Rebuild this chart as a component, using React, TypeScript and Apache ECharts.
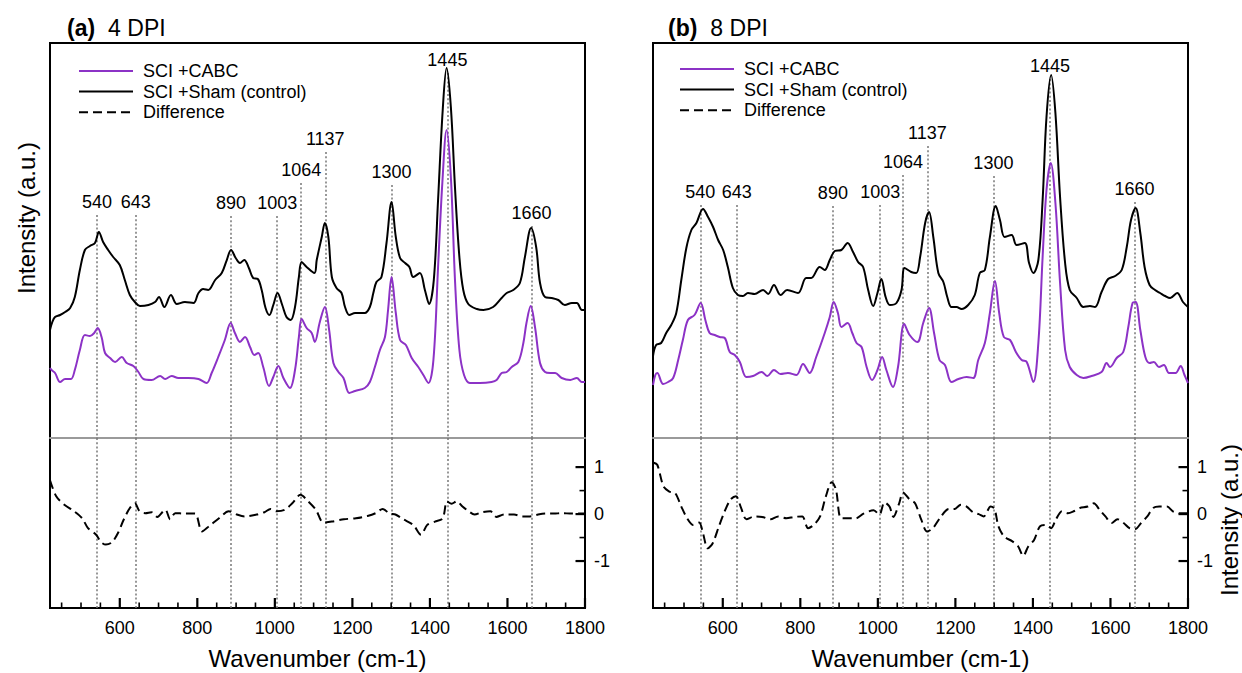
import { useEffect, useRef } from 'react';
import * as echarts from 'echarts';

const FONT = '"Liberation Sans", Arial, Helvetica, sans-serif';
const PURPLE = '#8c32c6';
const BLACK = '#000000';

// ---------- data ----------
const peakLabels = ['540', '643', '890', '1003', '1064', '1137', '1300', '1445', '1660'];
const peakPosA = [541, 641, 887, 1006, 1068, 1130, 1301, 1445, 1662];
const peakPosB = [542, 636, 884, 1006, 1065, 1128, 1298, 1444, 1662];

const xTicks = [600, 800, 1000, 1200, 1400, 1600, 1800];
const xMinorTicks = [450, 500, 550, 650, 700, 750, 850, 900, 950, 1050, 1100, 1150, 1250, 1300, 1350, 1450, 1500, 1550, 1650, 1700, 1750];
const diffTicks = [-1, 0, 1];
const diffMinorTicks = [-0.5, 0.5];

const legendNames = ['SCI +CABC', 'SCI +Sham (control)', 'Difference'];
const panelTitles = [['(a)', '4 DPI'], ['(b)', '8 DPI']];

// panel (a) 4 DPI
const shamA = [[420, 108], [426, 116], [433, 121], [446, 123], [459, 126], [472, 130], [484, 141], [497, 168], [510, 188], [523, 192], [536, 195], [546, 206], [557, 196], [570, 188], [583, 181], [600, 173], [613, 158], [626, 143], [639, 136], [652, 132], [674, 133], [691, 136], [701, 141], [715, 131], [732, 143], [747, 134], [768, 136], [790, 135], [803, 145], [815, 149], [828, 148], [846, 158], [863, 165], [876, 178], [887, 188], [899, 180], [910, 175], [921, 178], [933, 170], [944, 160], [956, 159], [966, 148], [976, 130], [986, 123], [996, 133], [1007, 145], [1019, 133], [1030, 121], [1041, 118], [1052, 131], [1062, 161], [1069, 176], [1082, 171], [1102, 165], [1108, 178], [1121, 201], [1129, 215], [1138, 201], [1147, 161], [1159, 150], [1172, 145], [1181, 131], [1192, 123], [1207, 125], [1232, 125], [1245, 131], [1254, 145], [1262, 156], [1275, 161], [1288, 195], [1301, 236], [1312, 201], [1323, 180], [1336, 175], [1347, 171], [1357, 161], [1374, 165], [1387, 148], [1398, 134], [1410, 158], [1421, 238], [1433, 328], [1443, 370], [1454, 331], [1465, 248], [1476, 181], [1486, 148], [1499, 134], [1521, 129], [1538, 128], [1563, 131], [1585, 140], [1598, 145], [1615, 148], [1632, 155], [1645, 181], [1661, 210], [1674, 191], [1684, 155], [1697, 141], [1714, 140], [1731, 138], [1748, 133], [1766, 135], [1779, 135], [1792, 128], [1800, 128]];
const cabcA = [[420, 70], [424, 68], [433, 65], [446, 56], [459, 59], [474, 59], [484, 68], [497, 88], [510, 103], [523, 102], [534, 105], [543, 110], [553, 101], [562, 85], [575, 80], [588, 76], [605, 81], [618, 75], [635, 72], [648, 66], [661, 59], [682, 58], [704, 62], [717, 59], [734, 62], [751, 60], [777, 60], [803, 59], [824, 55], [837, 65], [854, 81], [871, 98], [886, 115], [897, 105], [910, 96], [923, 101], [936, 91], [947, 83], [957, 85], [970, 71], [985, 52], [996, 61], [1009, 72], [1022, 60], [1039, 50], [1052, 68], [1062, 101], [1069, 119], [1082, 110], [1095, 105], [1103, 96], [1116, 116], [1129, 131], [1140, 108], [1151, 75], [1164, 66], [1177, 60], [1192, 45], [1207, 47], [1232, 50], [1245, 56], [1258, 71], [1271, 88], [1284, 101], [1292, 128], [1301, 161], [1312, 125], [1323, 98], [1338, 93], [1353, 80], [1370, 71], [1383, 63], [1396, 55], [1409, 78], [1421, 171], [1432, 255], [1443, 308], [1454, 261], [1465, 155], [1476, 88], [1488, 63], [1503, 55], [1529, 55], [1559, 56], [1572, 58], [1585, 65], [1598, 66], [1611, 71], [1628, 76], [1641, 95], [1649, 115], [1660, 132], [1671, 111], [1684, 75], [1697, 66], [1710, 65], [1723, 65], [1740, 60], [1762, 58], [1779, 60], [1792, 56], [1800, 56]];
const diffA = [[420, 0.72], [436, 0.38], [457, 0.2], [482, 0.06], [503, -0.09], [518, -0.3], [539, -0.44], [552, -0.6], [564, -0.65], [580, -0.6], [595, -0.41], [610, -0.12], [626, 0.13], [639, 0.23], [651, 0.06], [666, 0.02], [682, 0.04], [697, -0.06], [712, 0.06], [718, 0.09], [730, -0.11], [743, 0.02], [769, 0.01], [794, 0.01], [812, -0.37], [830, -0.26], [856, -0.09], [881, 0.06], [902, -0.01], [922, -0.05], [953, -0.01], [973, 0.04], [989, 0.11], [1004, 0.06], [1025, 0.09], [1045, 0.23], [1066, 0.41], [1086, 0.27], [1106, 0.09], [1125, -0.18], [1147, -0.16], [1178, -0.11], [1209, -0.09], [1239, -0.04], [1260, 0.02], [1278, 0.11], [1296, 0.01], [1311, -0.01], [1331, -0.11], [1357, -0.23], [1377, -0.44], [1393, -0.23], [1413, -0.16], [1433, -0.09], [1444, 0.27], [1456, 0.22], [1469, 0.27], [1484, 0.16], [1500, 0.06], [1515, -0.01], [1535, 0.04], [1556, 0.06], [1571, -0.06], [1592, -0.01], [1617, -0.01], [1638, -0.05], [1658, -0.05], [1679, -0.01], [1699, 0.01], [1720, 0.01], [1740, 0.02], [1766, 0.01], [1800, 0.01]];

// panel (b) 8 DPI
const shamB = [[420, 82], [428, 93], [441, 95], [454, 105], [467, 113], [480, 125], [493, 158], [506, 190], [519, 208], [532, 215], [549, 229], [562, 221], [575, 211], [588, 198], [601, 188], [613, 171], [626, 150], [639, 143], [652, 142], [665, 145], [682, 144], [704, 148], [717, 144], [732, 153], [749, 143], [766, 148], [794, 145], [815, 160], [828, 160], [850, 171], [863, 168], [876, 178], [889, 187], [906, 188], [922, 195], [936, 186], [949, 176], [962, 171], [975, 148], [988, 132], [999, 145], [1009, 159], [1020, 141], [1031, 133], [1048, 135], [1061, 148], [1069, 170], [1086, 166], [1099, 165], [1109, 181], [1122, 215], [1132, 226], [1143, 201], [1156, 165], [1169, 156], [1179, 141], [1190, 131], [1203, 131], [1216, 129], [1233, 133], [1250, 143], [1263, 165], [1276, 168], [1289, 201], [1304, 232], [1315, 218], [1327, 201], [1345, 203], [1358, 193], [1379, 195], [1390, 175], [1401, 165], [1414, 178], [1425, 238], [1435, 321], [1447, 363], [1458, 325], [1470, 241], [1483, 175], [1495, 148], [1513, 140], [1530, 131], [1547, 132], [1560, 131], [1577, 146], [1594, 159], [1612, 162], [1629, 168], [1642, 191], [1653, 218], [1665, 230], [1677, 205], [1688, 171], [1701, 153], [1715, 148], [1728, 145], [1741, 142], [1754, 140], [1772, 145], [1787, 136], [1800, 131]];
const cabcB = [[420, 53], [426, 63], [431, 65], [446, 54], [459, 56], [472, 60], [485, 78], [497, 98], [510, 118], [527, 123], [543, 135], [555, 118], [566, 105], [579, 103], [592, 101], [605, 100], [618, 86], [631, 83], [644, 76], [661, 61], [678, 62], [700, 66], [715, 62], [732, 68], [749, 64], [768, 65], [790, 63], [807, 74], [824, 65], [841, 81], [863, 105], [876, 121], [886, 136], [897, 125], [906, 111], [922, 115], [934, 105], [945, 95], [958, 91], [971, 71], [985, 58], [999, 68], [1011, 81], [1022, 68], [1039, 51], [1052, 71], [1068, 114], [1082, 103], [1102, 96], [1117, 115], [1132, 130], [1145, 105], [1159, 78], [1173, 73], [1190, 56], [1208, 59], [1229, 61], [1246, 60], [1259, 78], [1276, 95], [1289, 125], [1302, 157], [1313, 125], [1325, 101], [1341, 98], [1356, 86], [1371, 78], [1384, 76], [1401, 56], [1414, 95], [1425, 181], [1435, 248], [1446, 275], [1458, 235], [1470, 155], [1483, 88], [1495, 71], [1513, 63], [1530, 60], [1551, 62], [1577, 66], [1590, 75], [1599, 71], [1616, 80], [1633, 86], [1646, 111], [1657, 135], [1665, 136], [1677, 108], [1690, 81], [1701, 75], [1712, 76], [1725, 71], [1738, 73], [1751, 65], [1768, 65], [1781, 72], [1791, 63], [1800, 55]];
const diffB = [[420, 1.1], [431, 1.05], [447, 0.59], [462, 0.48], [477, 0.45], [493, 0.16], [508, -0.09], [523, -0.23], [539, -0.18], [549, -0.41], [561, -0.73], [574, -0.62], [590, -0.26], [605, 0.06], [620, 0.31], [634, 0.38], [646, 0.16], [661, -0.11], [682, -0.05], [702, -0.06], [723, -0.11], [743, -0.05], [764, -0.09], [784, -0.06], [805, -0.05], [820, -0.3], [835, -0.23], [851, -0.05], [866, 0.38], [881, 0.68], [892, 0.52], [905, -0.09], [922, -0.09], [943, -0.09], [963, 0.01], [989, 0.08], [1004, -0.01], [1017, 0.25], [1030, 0.16], [1040, -0.06], [1055, 0.23], [1065, 0.46], [1081, 0.32], [1096, 0.23], [1112, -0.12], [1127, -0.37], [1142, -0.3], [1163, -0.05], [1183, 0.11], [1198, 0.11], [1214, 0.2], [1229, 0.16], [1245, 0.04], [1260, 0], [1273, -0.05], [1291, 0.16], [1301, 0.11], [1311, -0.26], [1326, -0.48], [1347, -0.58], [1362, -0.69], [1375, -0.89], [1388, -0.69], [1403, -0.55], [1418, -0.26], [1434, -0.23], [1447, -0.3], [1459, -0.12], [1475, 0.06], [1490, 0.02], [1505, 0.06], [1521, 0.13], [1541, 0.16], [1557, 0.23], [1572, 0.09], [1587, -0.05], [1603, -0.19], [1618, -0.11], [1634, -0.19], [1649, -0.3], [1664, -0.32], [1679, -0.19], [1695, -0.05], [1710, 0.13], [1726, 0.16], [1746, 0.16], [1761, 0.06], [1777, 0.02], [1800, 0.02]];

// ---------- layout (not data) ----------
const labelHeightA = [236, 236, 235, 235, 268, 299, 266, 378, 225];
const labelHeightB = [246, 246, 245, 246, 276, 305, 275, 372, 249];

const panels = [
  { left: 50, sham: shamA, cabc: cabcA, diff: diffA, pos: peakPosA, lab: labelHeightA, legendTop: 71, legendX: 79, titleX: 62 },
  { left: 653, sham: shamB, cabc: cabcB, diff: diffB, pos: peakPosB, lab: labelHeightB, legendTop: 69, legendX: 680, titleX: 663 },
];
const W = 535;
const TOP = 43;
const SPLIT = 438;
const BOTTOM = 608;
const TOPMAX = SPLIT - TOP;
const X_MIN = 420;
const X_MAX = 1800;
const D_MIN = -2;
const D_MAX = 1.62;

const plain = (v: number) => String(v);

function buildOption() {
  const grid: any[] = [];
  const xAxis: any[] = [];
  const yAxis: any[] = [];
  const series: any[] = [];
  const graphic: any[] = [];
  const title: any[] = [];

  const txt = { fontFamily: FONT, color: '#000' };
  const dotted = { color: '#777', width: 1.5, type: [2, 2.2] };

  panels.forEach((p, i) => {
    grid.push(
      { left: p.left, top: TOP, width: W, height: SPLIT - TOP, show: false, outerBoundsMode: 'none' },
      { left: p.left, top: SPLIT, width: W, height: BOTTOM - SPLIT, show: false, outerBoundsMode: 'none' },
      { left: p.left, top: TOP, width: W, height: BOTTOM - TOP, show: true, borderColor: '#000', borderWidth: 2, backgroundColor: 'transparent', outerBoundsMode: 'none' }
    );
    const g = 3 * i;
    const a = 3 * i;
    xAxis.push(
      {
        gridIndex: g, type: 'value', min: X_MIN, max: X_MAX, position: 'bottom',
        axisLine: { show: true, onZero: false, lineStyle: { color: '#9a9a9a', width: 2 } },
        axisTick: { show: false }, axisLabel: { show: false }, splitLine: { show: false },
      },
      {
        gridIndex: g + 1, type: 'value', min: X_MIN, max: X_MAX, position: 'bottom',
        axisLine: { show: false, onZero: false },
        axisTick: { show: false },
        axisLabel: { show: true, customValues: xTicks, formatter: plain, margin: 11, fontSize: 18, ...txt },
        splitLine: { show: false },
        name: 'Wavenumber (cm-1)', nameLocation: 'middle', nameGap: 38,
        nameTextStyle: { fontSize: 24, ...txt },
      },
      { gridIndex: g + 2, type: 'value', min: X_MIN, max: X_MAX, show: false, axisLine: { onZero: false } }
    );
    yAxis.push(
      { gridIndex: g, type: 'value', min: 0, max: TOPMAX, show: false, axisLine: { onZero: false } },
      {
        gridIndex: g + 1, type: 'value', min: D_MIN, max: D_MAX, position: 'right',
        axisLine: { show: false, onZero: false },
        axisTick: { show: false },
        axisLabel: { show: true, customValues: diffTicks, formatter: plain, margin: 9, fontSize: 18, ...txt },
        splitLine: { show: false },
      },
      { gridIndex: g + 2, type: 'value', min: 0, max: 1, show: false, axisLine: { onZero: false } }
    );

    const lineCommon = { type: 'line', symbol: 'none', smooth: 0.35, z: 4, silent: true };
    series.push(
      {
        ...lineCommon, name: legendNames[1], xAxisIndex: a, yAxisIndex: a, data: p.sham,
        lineStyle: { color: BLACK, width: 2 }, itemStyle: { color: BLACK },
      },
      {
        ...lineCommon, name: legendNames[0], xAxisIndex: a, yAxisIndex: a, data: p.cabc,
        lineStyle: { color: PURPLE, width: 2 }, itemStyle: { color: PURPLE },
      },
      {
        ...lineCommon, name: legendNames[2], xAxisIndex: a + 1, yAxisIndex: a + 1, data: p.diff, smooth: 0.3,
        lineStyle: { color: BLACK, width: 2, type: [9, 5] }, itemStyle: { color: BLACK },
        markLine: {
          silent: true, symbol: ['none', 'none'], label: { show: false }, z: 1,
          lineStyle: dotted,
          data: p.pos.map((x) => ({ xAxis: x })),
        },
      },
      {
        type: 'scatter', name: 'peaks', xAxisIndex: a, yAxisIndex: a, silent: true, z: 5,
        symbolSize: 1, itemStyle: { color: 'rgba(0,0,0,0)', opacity: 1 },
        data: p.pos.map((x, k) => ({ value: [x, p.lab[k]], name: peakLabels[k] })),
        label: { show: true, position: 'inside', formatter: '{b}', fontSize: 18, opacity: 1, textBorderWidth: 0, textBorderColor: 'transparent', ...txt },
        markLine: {
          silent: true, symbol: ['none', 'none'], label: { show: false }, z: 1,
          lineStyle: dotted,
          data: p.pos.map((x, k) => [{ coord: [x, p.lab[k] - 13] }, { coord: [x, 0] }]),
        },
      }
    );

    // legend drawn as graphic
    const styles = [
      { stroke: PURPLE, lineWidth: 2 },
      { stroke: BLACK, lineWidth: 2 },
      { stroke: BLACK, lineWidth: 2, lineDash: [9, 5] },
    ];
    legendNames.forEach((n, k) => {
      const y = p.legendTop + k * 20.6;
      graphic.push(
        { id: `lg-l-${i}-${k}`, type: 'line', silent: true, shape: { x1: p.legendX, y1: y, x2: p.legendX + 54, y2: y }, style: styles[k] },
        { id: `lg-t-${i}-${k}`, type: 'text', silent: true, x: p.legendX + 64, y, style: { text: n, fontSize: 18, fontFamily: FONT, fill: '#000', align: 'left', verticalAlign: 'middle' } }
      );
    });

    title.push({
      left: p.titleX, top: 11,
      text: `{b|${panelTitles[i][0]}}{n|${panelTitles[i][1]}}`,
      textStyle: {
        fontWeight: 'normal',
        rich: {
          b: { fontWeight: 'bold', fontSize: 23, fontFamily: FONT, color: '#000' },
          n: { fontWeight: 'normal', fontSize: 23, fontFamily: FONT, color: '#000', padding: [0, 0, 0, 13] },
        },
      },
    });
  });

  graphic.push(
    { id: 'ylab-a', type: 'text', silent: true, x: 26, y: 218, rotation: Math.PI / 2, style: { text: 'Intensity (a.u.)', fontSize: 24, fontFamily: FONT, fill: '#000', align: 'center', verticalAlign: 'middle' } },
    { id: 'ylab-b', type: 'text', silent: true, x: 1229, y: 520, rotation: Math.PI / 2, style: { text: 'Intensity (a.u.)', fontSize: 24, fontFamily: FONT, fill: '#000', align: 'center', verticalAlign: 'middle' } }
  );

  return {
    animation: false,
    backgroundColor: '#ffffff',
    title,
    grid,
    xAxis,
    yAxis,
    series,
    graphic,
  };
}

// Tick marks: positions converted from axis values through the chart's own scales.
function buildTicks(chart: any) {
  const out: any[] = [];
  panels.forEach((_p, i) => {
    const finder = { seriesIndex: 4 * i + 2 };
    const add = (id: string, v: [number, number], dx: number, dy: number, w: number) => {
      const pt = chart.convertToPixel(finder, v);
      if (!pt || !isFinite(pt[0]) || !isFinite(pt[1])) return;
      out.push({
        id, type: 'line', silent: true, z: 100,
        shape: { x1: pt[0], y1: pt[1], x2: pt[0] + dx, y2: pt[1] + dy },
        style: { stroke: '#000', lineWidth: w, lineCap: 'butt' },
      });
    };
    xTicks.forEach((v, k) => add(`xt-${i}-${k}`, [v, D_MIN], 0, -10, 2.2));
    xMinorTicks.forEach((v, k) => add(`xm-${i}-${k}`, [v, D_MIN], 0, -5.5, 1.6));
    diffTicks.forEach((v, k) => add(`yt-${i}-${k}`, [X_MAX, v], -9.5, 0, 2.2));
    diffMinorTicks.forEach((v, k) => add(`ym-${i}-${k}`, [X_MAX, v], -5.5, 0, 1.6));
  });
  return out;
}

export default function App() {
  const ref = useRef<HTMLDivElement>(null);
  useEffect(() => {
    if (!ref.current) return;
    const chart = echarts.init(ref.current, null, { renderer: 'svg' });
    const option = buildOption();
    chart.setOption(option as any);
    const ticks = buildTicks(chart);
    chart.setOption({ graphic: [...option.graphic, ...ticks] } as any);
    return () => chart.dispose();
  }, []);
  return (
    <div
      ref={ref}
      style={{ position: 'absolute', left: 0, top: 0, width: 1242, height: 673, background: '#fff' }}
    />
  );
}
